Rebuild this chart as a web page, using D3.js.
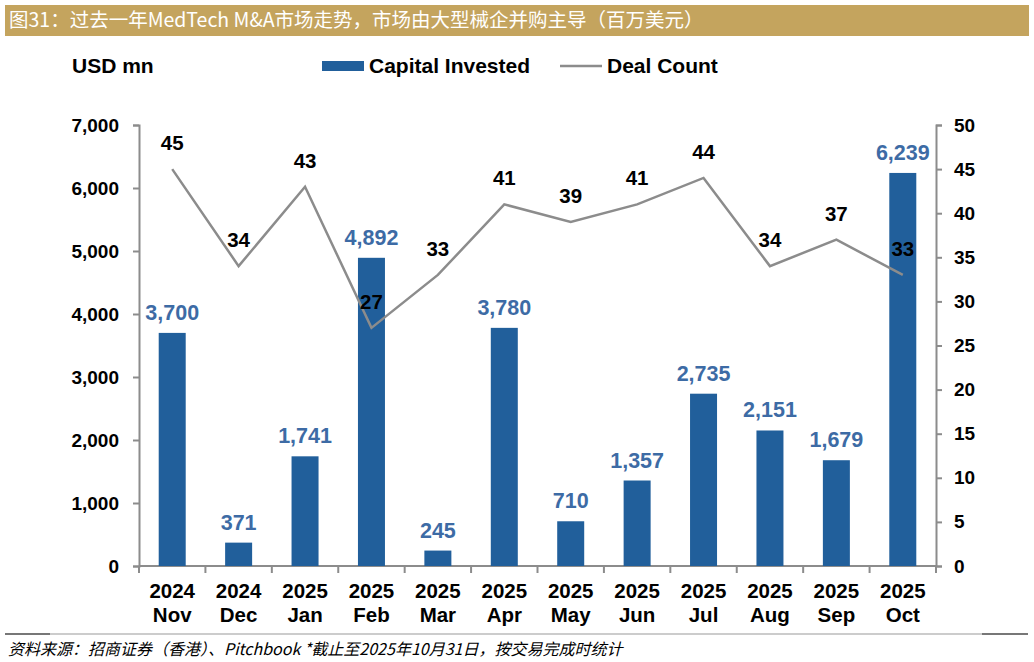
<!DOCTYPE html>
<html lang="zh">
<head>
<meta charset="UTF-8">
<script src="https://d3js.org/d3.v7.min.js"></script>
<style>
  body { margin: 0; background: #fff; }
  svg { display: block; font-family: Arial, "Liberation Sans", sans-serif; }
  .axis path, .axis line { stroke: #8c8c8c; stroke-width: 2px; }
  .axis text { font-size: 19px; font-weight: bold; fill: #000; }
  .axis text.xl { font-size: 20.5px; }
</style>
</head>
<body>
<svg width="1034" height="662"></svg>
<script>
// データ
const years = ["2024", "2024", "2025", "2025", "2025", "2025", "2025", "2025", "2025", "2025", "2025", "2025"];
const months = ["Nov", "Dec", "Jan", "Feb", "Mar", "Apr", "May", "Jun", "Jul", "Aug", "Sep", "Oct"];
const capital = [3700, 371, 1741, 4892, 245, 3780, 710, 1357, 2735, 2151, 1679, 6239];
const deals = [45, 34, 43, 27, 33, 41, 39, 41, 44, 34, 37, 33];
const leftTicks = [0, 1000, 2000, 3000, 4000, 5000, 6000, 7000];
const rightTicks = [0, 5, 10, 15, 20, 25, 30, 35, 40, 45, 50];

const svg = d3.select("svg");
const plotLeft = 139, plotRight = 936, plotTop = 125, plotBottom = 566;
const barColor = "#215f9b";
const lineColor = "#8c8c8c";

// タイトル帯
svg.append("rect").attr("x", 5).attr("y", 5).attr("width", 1024).attr("height", 31).attr("fill", "#c4a45e");
svg.append("text").attr("x", 9).attr("y", 27)
  .style("font-family", "'Noto Sans CJK SC', sans-serif").style("font-size", "19.5px").attr("fill", "#fff")
  .text("图31：过去一年MedTech M&A市场走势，市场由大型械企并购主导（百万美元）");

const keys = d3.range(capital.length);
const x = d3.scaleBand().domain(keys).range([plotLeft, plotRight]);
const yL = d3.scaleLinear().domain([0, 7000]).range([plotBottom, plotTop]);
const yR = d3.scaleLinear().domain([0, 50]).range([plotBottom, plotTop]);

// 軸
svg.append("g").attr("class", "axis").attr("transform", `translate(${plotLeft},0)`)
  .call(d3.axisLeft(yL).tickValues(leftTicks).tickSize(6).tickSizeOuter(6).tickPadding(14).tickFormat(d3.format(",")));
svg.append("g").attr("class", "axis").attr("transform", `translate(${plotRight},0)`)
  .call(d3.axisRight(yR).tickValues(rightTicks).tickSize(6).tickSizeOuter(6).tickPadding(12));

const xAxis = svg.append("g").attr("class", "axis").attr("transform", `translate(0,${plotBottom})`);
xAxis.append("line").attr("x1", plotLeft).attr("x2", plotRight).attr("y1", 0).attr("y2", 0);
xAxis.selectAll("line.tk").data(d3.range(capital.length + 1)).enter().append("line")
  .attr("class", "tk")
  .attr("x1", i => plotLeft + i * x.step()).attr("x2", i => plotLeft + i * x.step())
  .attr("y1", 0).attr("y2", 7);
const xl = xAxis.selectAll("text.xl").data(keys).enter().append("text")
  .attr("class", "xl").attr("text-anchor", "middle");
xl.append("tspan").attr("x", i => x(i) + x.bandwidth() / 2).attr("y", 32).text(i => years[i]);
xl.append("tspan").attr("x", i => x(i) + x.bandwidth() / 2).attr("y", 56).text(i => months[i]);

// 棒
const bw = 27;
svg.selectAll("rect.bar").data(keys).enter().append("rect")
  .attr("class", "bar")
  .attr("x", i => x(i) + x.bandwidth() / 2 - bw / 2)
  .attr("y", i => yL(capital[i]))
  .attr("width", bw)
  .attr("height", i => plotBottom - yL(capital[i]))
  .attr("fill", barColor);

svg.selectAll("text.bl").data(keys).enter().append("text")
  .attr("class", "bl")
  .attr("x", i => x(i) + x.bandwidth() / 2)
  .attr("y", i => yL(capital[i]) - 13)
  .attr("text-anchor", "middle")
  .style("font-size", "21.5px").style("font-weight", "bold").attr("fill", "#3d6ba5")
  .text(i => d3.format(",")(capital[i]));

// 折れ線
const line = d3.line().x(i => x(i) + x.bandwidth() / 2).y(i => yR(deals[i]));
svg.append("path").datum(keys).attr("d", line)
  .attr("fill", "none").attr("stroke", lineColor).attr("stroke-width", 2.5);

svg.selectAll("text.dl").data(keys).enter().append("text")
  .attr("class", "dl")
  .attr("x", i => x(i) + x.bandwidth() / 2)
  .attr("y", i => yR(deals[i]) - 19)
  .attr("text-anchor", "middle")
  .style("font-size", "20.5px").style("font-weight", "bold").attr("fill", "#000")
  .text(i => deals[i]);

// 凡例
svg.append("text").attr("x", 72).attr("y", 73).style("font-size", "21px").style("font-weight", "bold").text("USD mn");
svg.append("rect").attr("x", 322).attr("y", 61).attr("width", 42).attr("height", 10).attr("fill", barColor);
svg.append("text").attr("x", 369).attr("y", 73).style("font-size", "21px").style("font-weight", "bold").text("Capital Invested");
svg.append("line").attr("x1", 560).attr("x2", 602).attr("y1", 66).attr("y2", 66).attr("stroke", lineColor).attr("stroke-width", 2.5);
svg.append("text").attr("x", 607).attr("y", 73).style("font-size", "21px").style("font-weight", "bold").text("Deal Count");

// フッター
svg.append("line").attr("x1", 5).attr("x2", 1028).attr("y1", 634).attr("y2", 634).attr("stroke", "#999").attr("stroke-width", 1);
svg.append("line").attr("x1", 5).attr("x2", 50).attr("y1", 634).attr("y2", 634).attr("stroke", "#777").attr("stroke-width", 2);
svg.append("line").attr("x1", 982).attr("x2", 1028).attr("y1", 634).attr("y2", 634).attr("stroke", "#777").attr("stroke-width", 2);
svg.append("text").attr("x", 8).attr("y", 655)
  .style("font-family", "'Noto Sans CJK SC', sans-serif").style("font-size", "16px").style("font-style", "italic")
  .attr("fill", "#000")
  .text("资料来源：招商证券（香港）、Pitchbook  *截止至2025年10月31日，按交易完成时统计");
</script>
</body>
</html>
